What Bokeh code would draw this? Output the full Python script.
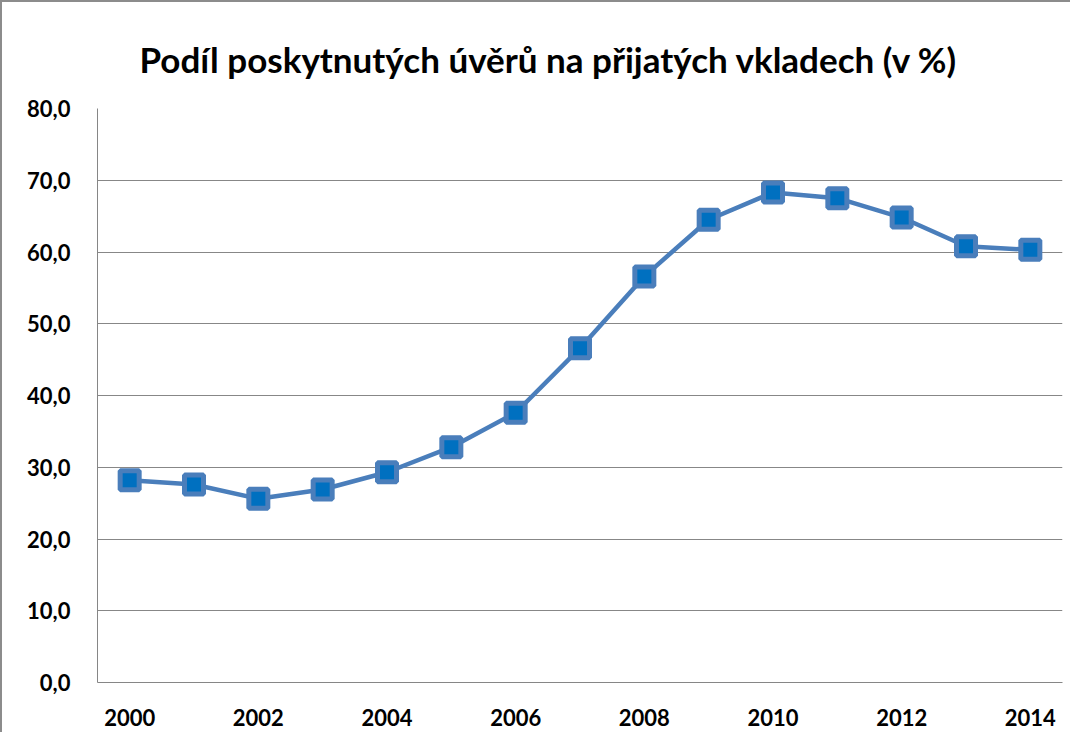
from bokeh.plotting import figure
from bokeh.models import FixedTicker, CustomJSTickFormatter, Range1d
from bokeh.embed import file_html
from bokeh.resources import INLINE

years = list(range(2000, 2015))
values = [28.2, 27.6, 25.6, 26.9, 29.3, 32.8, 37.6, 46.6, 56.6, 64.5, 68.3, 67.5, 64.8, 60.8, 60.3]
y_ticks = [0, 10, 20, 30, 40, 50, 60, 70, 80]
x_ticks = [2000, 2002, 2004, 2006, 2008, 2010, 2012, 2014]
title_text = "Podíl poskytnutých úvěrů na přijatých vkladech (v %)"

FONT = "Lato"

p = figure(
    frame_width=965, frame_height=574,
    min_border_left=95, min_border_right=8, min_border_top=106, min_border_bottom=50,
    output_backend="svg", toolbar_location=None,
    x_range=Range1d(1999.5, 2014.5), y_range=Range1d(0, 80),
    title=title_text,
    styles={"border-top": "2px solid #8c8c8c", "border-left": "2px solid #8c8c8c"},
)

p.title.align = "left"
p.title.text_font = FONT
p.title.text_font_style = "bold"
p.title.text_font_size = "35px"
p.title.text_color = "#000000"
p.title.offset = 42
p.title.standoff = 57

p.outline_line_color = None
p.background_fill_color = "white"
p.border_fill_color = "white"

p.xgrid.grid_line_color = None
p.ygrid.grid_line_color = "#878787"
p.ygrid.grid_line_width = 1
p.ygrid.ticker = FixedTicker(ticks=y_ticks)

p.yaxis.ticker = FixedTicker(ticks=y_ticks)
p.yaxis.formatter = CustomJSTickFormatter(code="return tick.toFixed(1).replace('.', ',');")
p.xaxis.ticker = FixedTicker(ticks=x_ticks)

for ax in (p.xaxis, p.yaxis):
    ax.axis_line_color = "#868686"
    ax.axis_line_width = 1
    ax.major_tick_line_color = None
    ax.minor_tick_line_color = None
    ax.major_label_text_font = FONT
    ax.major_label_text_font_style = "bold"
    ax.major_label_text_font_size = "22px"
    ax.major_label_text_color = "#000000"

p.yaxis.major_label_standoff = 21
p.xaxis.major_label_standoff = 20

p.line(years, values, line_color="#4A7EBB", line_width=4.5)
p.scatter(years, values, marker="square", size=19, fill_color="#0070C0",
          line_color="#4A7EBB", line_width=5)

open("out.html", "w").write(file_html(p, INLINE))
